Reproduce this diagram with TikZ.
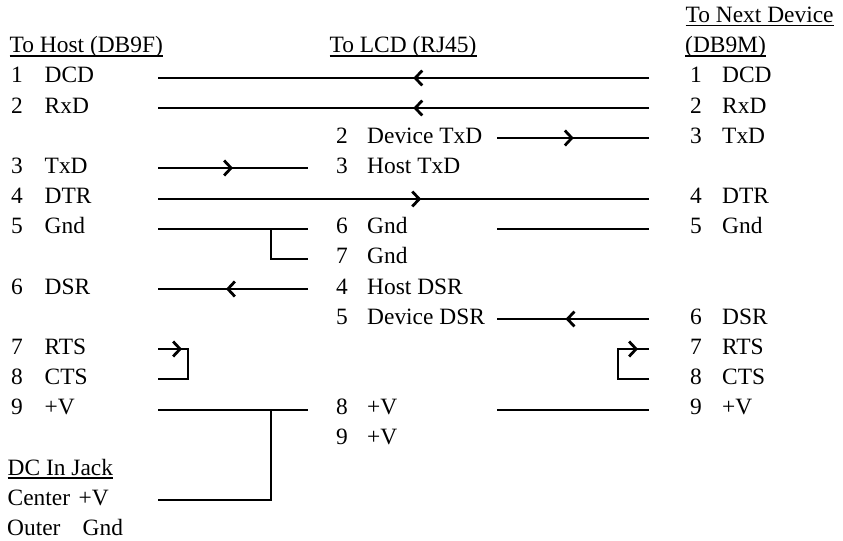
\documentclass[tikz,border=0pt]{standalone}
\usepackage{fontspec}
\setmainfont{Liberation Serif}
\usetikzlibrary{arrows.meta,decorations.markings}

\begin{document}
\begin{tikzpicture}[x=1bp,y=-1bp,
        font=\fontsize{23.5pt}{28pt}\selectfont,
        lbl/.style={anchor=base west,inner sep=0pt},
        ul/.style={lbl,append after command={([yshift=-3bp]\tikzlastnode.base west) edge[line width=1.4bp] ([yshift=-3bp]\tikzlastnode.base east)}},
        wire/.style={line width=2.8bp},
        flow/.style={postaction={decorate,decoration={markings,
            mark=at position #1 with {\arrow{Straight Barb[length=7bp,width=15bp]}}}}}]
        % Page
        \useasboundingbox (0,0) rectangle (843,541);

        % Wire ends, one per column and row
        \foreach \c/\x in {A/158,B/308,C/497,D/649,J/271,K/188,Q/618} {
            \foreach \r in {2,...,16} {
                \coordinate (\c\r) at (\x,{round(17.7+30.15*\r)});
            }
        }

        % Headings
        \node[ul] (host) at (9.5,52.9) {To Host (DB9F)};
        \node[ul] (lcd) at (329.5,52.9) {To LCD (RJ45)};
        \node[ul] (next) at (685.5,22.7) {To Next Device};
        \node[ul] (nextb) at (685,52.9) {(DB9M)};

        % Host pins
        \foreach \r/\n/\s in {2/1/DCD, 3/2/RxD, 5/3/TxD, 6/4/DTR, 7/5/Gnd, 9/6/DSR, 11/7/RTS, 12/8/CTS, 13/9/+V} {
            \node[lbl] (hn\n) at (11,{22.7+30.15*\r}) {\n};
            \node[lbl] (hs\n) at (44.5,{22.7+30.15*\r}) {\s};
        }

        % LCD pins
        \foreach \r/\n/\s in {4/2/Device TxD, 5/3/Host TxD, 7/6/Gnd, 8/7/Gnd, 9/4/Host DSR, 10/5/Device DSR, 13/8/+V, 14/9/+V} {
            \node[lbl] (ln\n) at (336,{22.7+30.15*\r}) {\n};
            \node[lbl] (ls\n) at (367,{22.7+30.15*\r}) {\s};
        }

        % Next device pins
        \foreach \r/\n/\s in {2/1/DCD, 3/2/RxD, 4/3/TxD, 6/4/DTR, 7/5/Gnd, 10/6/DSR, 11/7/RTS, 12/8/CTS, 13/9/+V} {
            \node[lbl] (nn\n) at (690,{22.7+30.15*\r}) {\n};
            \node[lbl] (ns\n) at (722,{22.7+30.15*\r}) {\s};
        }

        % DC jack
        \node[ul] (jack) at (7.5,475) {DC In Jack};
        \node[lbl] (jc) at (7.5,505.1) {Center};
        \node[lbl] (jcv) at (78.5,505.1) {+V};
        \node[lbl] (jo) at (7,535.2) {Outer};
        \node[lbl] (jog) at (82.5,535.2) {Gnd};

        % Wires
        \draw[wire,flow=0.48] (D2) -- (A2);
        \draw[wire,flow=0.48] (D3) -- (A3);
        \draw[wire,flow=0.505] (C4) -- (D4);
        \draw[wire,flow=0.5] (A5) -- (B5);
        \draw[wire,flow=0.536] (A6) -- (D6);
        \draw[wire] (A7) -- (B7);
        \draw[wire] (J7) |- (B8);
        \draw[wire] (C7) -- (D7);
        \draw[wire,flow=0.547] (B9) -- (A9);
        \draw[wire,flow=0.549] (D10) -- (C10);
        \draw[wire,flow=24bp] (A11) -- (K11) |- (A12);
        \draw[wire,flow=81bp] (D12) -| (Q11) -- (D11);
        \draw[wire] (A13) -- (B13);
        \draw[wire] (C13) -- (D13);
        \draw[wire] (J13) |- (A16);

    \end{tikzpicture}
\end{document}
